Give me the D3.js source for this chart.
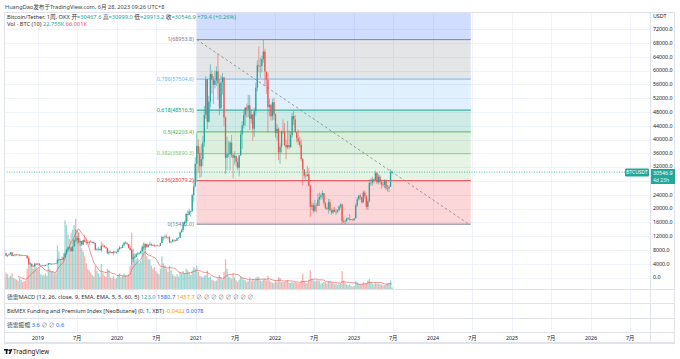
<!DOCTYPE html>
<html><head><meta charset="utf-8">
<script src="https://cdn.jsdelivr.net/npm/d3@7"></script>
<style>body{margin:0;background:#fff;}svg{display:block;font-family:"Noto Sans","Noto Sans CJK SC",sans-serif;}</style>
</head><body><svg id="c" width="680" height="359"></svg>
<script>
// ---------- DATA ----------
const firstWeek = "2018-07-30";
const firstOpen = 8220;
const highs = [8280,7150,6600,6950,7410,7400,6560,6840,6800,6680,6700,6750,6490,6490,6550,6400,5630,4450,4100,3620,4200,4250,4140,
4130,3720,3630,3600,3690,3720,4200,4200,3990,4040,4090,4190,5470,5470,5380,5640,5900,7480,8390,8900,9070,8800,9000,11200,13970,12000,13200,11100,10670,11050,12330,11450,10950,10600,10900,10450,10350,10000,8500,8820,8400,10400,9940,9500,9000,8500,7850,7750,7450,7520,7700,7550,
8470,9200,8750,9580,10190,10500,10250,9700,9180,8180,6900,6950,7200,7480,7300,7800,9460,10000,9950,9850,9700,10380,9990,9600,9780,9300,9480,9330,10050,12100,11930,12480,12470,11800,12090,10620,11180,10990,10950,11500,11730,13350,14100,15970,16500,18800,19500,19900,19420,24300,28400,34800,
41950,40100,37850,38600,40950,49700,58350,57500,52650,61780,60100,58400,60000,61200,64850,57500,58500,59300,58000,46700,40900,39500,39550,41300,35750,36600,35100,34600,35400,42600,45300,48200,49400,50500,52900,52900,48800,47450,49200,56500,62900,67000,63700,64300,68953.8,66300,59400,59100,51900,50100,51800,52100,
47600,44500,43500,38900,42600,45800,44700,39900,45400,42600,42300,47700,48200,47000,41600,42900,40800,40000,34700,31350,30600,32400,31700,26900,21900,21600,22500,21600,24300,24650,24250,25200,24450,21900,20600,22800,22700,19950,20350,20500,19950,19700,21000,21500,21450,17200,16800,17400,17450,18400,16950,16900,
17200,21450,23370,23950,24250,23450,25250,25150,23900,22800,28400,28850,29200,28800,31000,30500,30050,29800,28300,27650,28450,28450,26800,26770,31450,30999.0];
const lows = [6950,6080,5880,6250,6650,6130,6180,6100,6320,6420,6100,6370,6350,6250,6300,5300,3650,3700,3220,3150,3240,3560,3650,
3470,3480,3510,3360,3370,3580,3620,3800,3700,3830,3900,3940,4080,4930,5030,5070,5270,5700,6600,7480,8000,7450,7520,8970,10300,9650,9900,9100,9100,9380,10200,9470,9750,9350,10100,9900,9650,7750,7730,7780,7880,7300,8900,8700,8300,6800,6530,7150,7000,6420,7120,6850,
7330,8050,8250,8550,9120,9700,9300,8400,7840,3700,4440,5700,5860,6470,6550,6800,7640,8100,8200,8600,8630,9250,9100,9180,8830,8930,9120,9000,9120,9920,10700,11120,11360,11120,9880,9880,10660,10150,10370,10530,11200,11400,12970,13200,14850,15900,16200,18000,17600,19000,21900,26100,
27700,30400,28800,29200,32300,37900,46000,43000,44950,49300,53300,50300,54800,55450,51500,47000,48750,53000,43900,30000,31100,34800,31000,34800,28800,32700,32100,31100,29280,35200,37300,43200,43950,46400,46500,42800,44700,39600,40750,46900,53900,59500,57800,59400,62300,55600,53250,42000,46750,45500,45550,45700,
40600,39650,34000,32900,36200,41600,38000,34300,37200,37200,37600,40500,44200,41900,39200,38500,37700,33700,26700,28700,28000,29300,26550,17600,19650,18600,19000,18900,20750,20700,22400,22700,20800,19800,19550,18500,19300,18150,18500,19000,18150,18650,19250,20050,15452,15800,15500,16000,16700,16300,16550,16350,
16500,17150,20400,22300,22500,21350,21550,22750,19650,19570,21800,26600,26550,27200,28200,27100,26950,27200,25800,26350,25880,25350,24900,24750,26250,29913.2];
const closes = [7030,6310,6480,6700,7280,6240,6500,6700,6590,6600,6390,6450,6400,6390,6360,5600,4000,4020,3280,3240,3940,3850,4030,
3500,3540,3540,3410,3650,3670,4130,3860,3980,4010,4000,4100,5050,5140,5320,5200,5750,6990,8040,8740,8730,7640,8980,10850,10820,11440,10190,10580,9540,10820,10330,10230,10140,10380,10310,10360,9980,8040,8150,8290,7950,9220,9200,8800,8500,7050,7420,7400,7100,7510,7260,7350,
8180,8710,8600,9370,10150,9920,9660,8530,7940,5360,5820,5880,6770,6900,7120,7700,8900,8720,9680,8900,9450,9650,9330,9300,9130,9260,9230,9170,9950,11750,11680,11850,11640,11650,10250,10320,10920,10770,10670,11380,11500,13120,13800,15480,16070,18420,18180,19150,19270,23850,26450,33000,
38150,36000,32250,34300,39200,47150,57500,45140,51000,59000,57350,55850,57100,59800,56250,49070,56600,58000,46400,34700,35680,35800,39100,35500,34700,35300,33500,31780,35400,41460,44100,47050,49250,48800,49900,46000,47250,43150,48200,55000,61500,61300,61300,63300,65500,59700,57300,49400,50100,46700,50800,47300,
41900,43100,36300,37900,42400,42200,38400,37700,38400,37800,41300,46800,45800,42150,40400,39450,38450,34300,31300,29450,29450,29900,26600,20550,21000,19300,20850,20800,22600,23300,23800,24450,21500,20050,19830,21830,19400,18800,19600,19070,19070,19560,20600,21150,16300,16280,16450,17100,17100,16800,16840,16620,
17130,20880,22700,23750,23330,21800,24630,23550,20470,22120,27450,27480,28450,28330,30300,27580,29230,27700,26900,26850,28080,25850,25900,26340,30470,30546.9];
// weekly volume, thousand BTC
const volumes = [180,210,190,150,170,200,140,130,120,100,140,120,90,100,
110,260,420,330,300,260,330,280,
250,280,190,170,180,200,170,300,260,220,230,200,210,
560,480,380,420,460,880,820,700,640,720,760,820,900,760,720,600,520,
480,420,330,260,240,210,180,160,300,240,200,160,320,210,170,160,260,240,150,140,170,130,140,
180,200,150,170,200,180,170,190,
300,720,520,420,380,400,330,360,520,600,540,420,380,
380,300,260,280,230,210,190,260,420,330,300,260,220,300,240,190,170,160,190,160,220,200,230,200,260,240,210,180,240,280,
260,300,220,170,160,150,170,180,240,
150,160,120,110,100,110,140,180,140,120,220,
380,260,160,150,130,200,150,110,90,120,
160,140,120,110,90,100,150,100,130,110,
140,160,150,110,100,120,130,110,170,110,90,80,80,
110,90,150,140,90,90,90,110,110,80,80,90,
80,90,80,70,80,110,200,100,80,80,
120,240,130,110,100,110,110,100,70,80,90,90,
70,100,100,80,80,60,70,50,70,70,
230,110,80,60,50,60,40,30,
40,100,90,70,60,60,90,70,80,110,
130,90,70,60,80,70,70,60,60,50,
50,60,70,80,110,22.755];
const priceTicks = [0,4000,8000,12000,16000,20000,24000,28000,32000,36000,40000,44000,48000,52000,56000,60000,64000,68000,72000];
const timeTicks = ["2019-01-01","2019-07-01","2020-01-01","2020-07-01","2021-01-01","2021-07-01","2022-01-01","2022-07-01","2023-01-01","2023-07-01","2024-01-01","2024-07-01","2025-01-01","2025-07-01","2026-01-01","2026-07-01"];
const timeTickLabels = ["2019","7月","2020","7月","2021","7月","2022","7月","2023","7月","2024","7月","2025","7月","2026","7月"];
const fibLevels = ["0","0.236","0.382","0.5","0.618","0.786","1"];
const fibPrices = [15452.0,28079.2,35890.3,42203.4,48516.5,57504.6,68953.8];
const fibColors = ["#787b86","#f23645","#81c784","#4caf50","#089981","#64b5f6","#787b86"];
const fibAboveColor = "#2962ff";
const fibStart = "2021-01-04", fibEnd = "2024-06-24";
const lastPrice = 30546.9;

// ---------- LAYOUT ----------
const svg = d3.select("#c");
const L = 4, R = 650, FR = 675, TOP = 12, MAINB = 289;
const seps = [303, 318, 332, 343];
const parse = d3.utcParse("%Y-%m-%d");
const x = d3.scaleUtc().domain([parse("2019-01-01"), parse("2023-01-01")]).range([38, 354]);
const y = d3.scaleLinear().domain([0, 72000]).range([277.5, 29.1]);
const yv = d3.scaleLinear().domain([0, 1000]).range([MAINB, 211]);
const t0 = parse(firstWeek);
const dates = closes.map((c, i) => d3.utcDay.offset(t0, i * 7));
const opens = closes.map((c, i) => i === 0 ? firstOpen : closes[i - 1]);
opens[opens.length - 1] = 30467.6;
const UP = "#26a69a", DN = "#ef5350";

svg.append("rect").attr("width", 680).attr("height", 359).attr("fill", "#fff");
const defs = svg.append("defs");
defs.append("clipPath").attr("id", "mainclip").append("rect").attr("x", L).attr("y", TOP).attr("width", R - L).attr("height", MAINB - TOP);

// grid
const grid = svg.append("g");
grid.selectAll("line.h").data(priceTicks).join("line")
  .attr("x1", L).attr("x2", R).attr("y1", d => Math.round(y(d)) + 0.5).attr("y2", d => Math.round(y(d)) + 0.5)
  .attr("stroke", "#f0f3fa");
grid.selectAll("line.v").data(timeTicks).join("line")
  .attr("x1", d => Math.round(x(parse(d))) + 0.5).attr("x2", d => Math.round(x(parse(d))) + 0.5)
  .attr("y1", TOP).attr("y2", 332).attr("stroke", "#f0f3fa");

// fib
const fib = svg.append("g").attr("clip-path", "url(#mainclip)");
const fx0 = x(parse(fibStart)), fx1 = x(parse(fibEnd));
fib.append("rect").attr("x", fx0).attr("width", fx1 - fx0).attr("y", TOP).attr("height", y(fibPrices[6]) - TOP)
  .attr("fill", fibAboveColor).attr("fill-opacity", 0.22);
for (let i = 0; i < 6; i++) {
  fib.append("rect").attr("x", fx0).attr("width", fx1 - fx0)
    .attr("y", y(fibPrices[i + 1])).attr("height", y(fibPrices[i]) - y(fibPrices[i + 1]))
    .attr("fill", fibColors[i + 1]).attr("fill-opacity", 0.2);
}
fibPrices.forEach((p, i) => {
  fib.append("line").attr("x1", fx0).attr("x2", fx1).attr("y1", y(p)).attr("y2", y(p))
    .attr("stroke", fibColors[i]).attr("stroke-width", 1).attr("stroke-opacity", 0.9);
  svg.append("text").attr("x", fx0 - 3).attr("y", y(p) + 1.8).attr("text-anchor", "end")
    .attr("font-size", 5.4).attr("fill", fibColors[i]).text(fibLevels[i] + "(" + p.toFixed(1) + ")");
});
fib.append("line").attr("x1", fx0).attr("y1", y(fibPrices[6])).attr("x2", fx1 - 2).attr("y2", y(fibPrices[0]))
  .attr("stroke", "#8a8d96").attr("stroke-width", 0.9).attr("stroke-dasharray", "2.5,2.5");

// volume
const vol = svg.append("g").attr("clip-path", "url(#mainclip)");
vol.selectAll("rect").data(volumes).join("rect")
  .attr("x", (d, i) => x(dates[i]) - 0.65).attr("width", 1.3)
  .attr("y", d => yv(d)).attr("height", d => MAINB - yv(d))
  .attr("fill", (d, i) => closes[i] >= opens[i] ? UP : DN).attr("fill-opacity", 0.45);
const ma = volumes.map((v, i) => i < 9 ? null : d3.mean(volumes.slice(i - 9, i + 1)));
vol.append("path").datum(ma.map((m, i) => [i, m]).filter(d => d[1] != null))
  .attr("d", d3.line().x(d => x(dates[d[0]])).y(d => yv(d[1])))
  .attr("fill", "none").attr("stroke", "#ef5350").attr("stroke-width", 0.8).attr("stroke-opacity", 0.8);

// candles
const cg = svg.append("g").attr("clip-path", "url(#mainclip)");
closes.forEach((c, i) => {
  const xi = x(dates[i]);
  const col = c >= opens[i] ? UP : DN;
  cg.append("line").attr("x1", xi).attr("x2", xi).attr("y1", y(highs[i])).attr("y2", y(lows[i]))
    .attr("stroke", col).attr("stroke-width", 0.8).attr("stroke-opacity", 0.7);
  const yt = y(Math.max(c, opens[i])), yb = y(Math.min(c, opens[i]));
  cg.append("rect").attr("x", xi - 0.65).attr("width", 1.3).attr("y", yt).attr("height", Math.max(0.6, yb - yt)).attr("fill", col);
});

// last price line
svg.append("line").attr("x1", L).attr("x2", 625).attr("y1", y(lastPrice)).attr("y2", y(lastPrice))
  .attr("stroke", UP).attr("stroke-width", 0.8).attr("stroke-dasharray", "1,1.5");

// frame and separators
const fr = svg.append("g").attr("stroke", "#e0e3eb").attr("fill", "none");
fr.append("rect").attr("x", L + 0.5).attr("y", TOP + 0.5).attr("width", FR - L - 1).attr("height", 343 - TOP - 1);
fr.append("line").attr("x1", R + 0.5).attr("x2", R + 0.5).attr("y1", TOP).attr("y2", 343);
[MAINB, ...seps].forEach(s => fr.append("line").attr("x1", L).attr("x2", FR).attr("y1", s + 0.5).attr("y2", s + 0.5));

// price axis labels
svg.append("text").attr("x", 653).attr("y", 18).attr("font-size", 5.3).attr("fill", "#131722").text("USDT");
svg.selectAll("text.p").data(priceTicks.filter(d => d !== 28000)).join("text")
  .attr("x", 653).attr("y", d => d === 32000 ? y(d) + 0.6 : y(d) + 1.9).attr("font-size", 5.3).attr("fill", "#131722")
  .text(d => d3.format(".1f")(d));

// last price labels
svg.append("rect").attr("x", 625).attr("y", 168.5).attr("width", 24).attr("height", 8).attr("fill", UP).attr("rx", 1);
svg.append("text").attr("x", 637).attr("y", 174.3).attr("text-anchor", "middle").attr("font-size", 5).attr("fill", "#fff").text("BTCUSDT");
svg.append("rect").attr("x", 651).attr("y", 169).attr("width", 24).attr("height", 15).attr("fill", UP);
svg.append("text").attr("x", 653).attr("y", 175).attr("font-size", 5.3).attr("fill", "#fff").text(d3.format(".1f")(lastPrice));
svg.append("text").attr("x", 653).attr("y", 182).attr("font-size", 5).attr("fill", "#e6f5f3").text("4d 23h");

// time axis
svg.selectAll("text.t").data(timeTicks).join("text")
  .attr("x", d => x(parse(d))).attr("y", 340).attr("text-anchor", "middle")
  .attr("font-size", 5.3).attr("fill", "#131722").text((d, i) => timeTickLabels[i]);

// header
svg.append("text").attr("x", 5).attr("y", 8.5).attr("font-size", 5.6).attr("fill", "#444")
  .text("HuangDao发布于TradingView.com, 6月 28, 2023 09:26 UTC+8");

function legend(yy, parts, fs) {
  const t = svg.append("text").attr("x", 7).attr("y", yy).attr("font-size", fs || 5.7);
  parts.forEach(p => t.append("tspan").attr("fill", p[1]).text(p[0]));
}
const tc = "#26a69a", dk = "#333";
legend(19, [["Bitcoin/Tether, 1周, OKX  ", dk], ["开", dk], ["=30467.6 ", tc], ["高", dk], ["=30999.0 ", tc], ["低", dk], ["=29913.2 ", tc], ["收", dk], ["=30546.9  +79.4 (+0.26%)", tc]]);
legend(26, [["Vol · BTC (10)  ", dk], ["22.755K  ", tc], ["66.001K", "#ef5350"]]);
legend(298.5, [["德雷MACD (12, 26, close, 9, EMA, EMA, 5, 5, 60, 5)  ", dk], ["123.0  ", tc], ["1580.7  ", "#2962ff"], ["1457.7  ", "#ff9800"], ["∅  ∅  ∅  ∅  ∅  ∅  ∅  ∅", "#888"]], 5.8);
legend(312.5, [["BitMEX Funding and Premium Index [NeoButane] (0, 1, XBT)  ", dk], ["-0.0422  ", "#ff9800"], ["0.0078", "#2962ff"]], 5.6);
legend(327, [["德雷振幅  ", dk], ["3.6  ", "#2962ff"], ["∅  ∅  ", "#888"], ["0.6", "#2962ff"]], 5.8);

// footer logo
const lg = svg.append("g").attr("transform", "translate(4,349)");
lg.append("rect").attr("x", 0).attr("y", 0).attr("width", 4).attr("height", 1.6).attr("fill", "#131722");
lg.append("rect").attr("x", 1.8).attr("y", 0).attr("width", 1.6).attr("height", 5).attr("fill", "#131722");
lg.append("circle").attr("cx", 5.2).attr("cy", 1.2).attr("r", 0.9).attr("fill", "#131722");
lg.append("path").attr("d", "M4.6,5 L6.6,0 L8.4,0 L6.4,5 Z").attr("fill", "#131722");
svg.append("text").attr("x", 13).attr("y", 354).attr("font-size", 6.3).attr("fill", "#131722").text("TradingView");
</script></body></html>
